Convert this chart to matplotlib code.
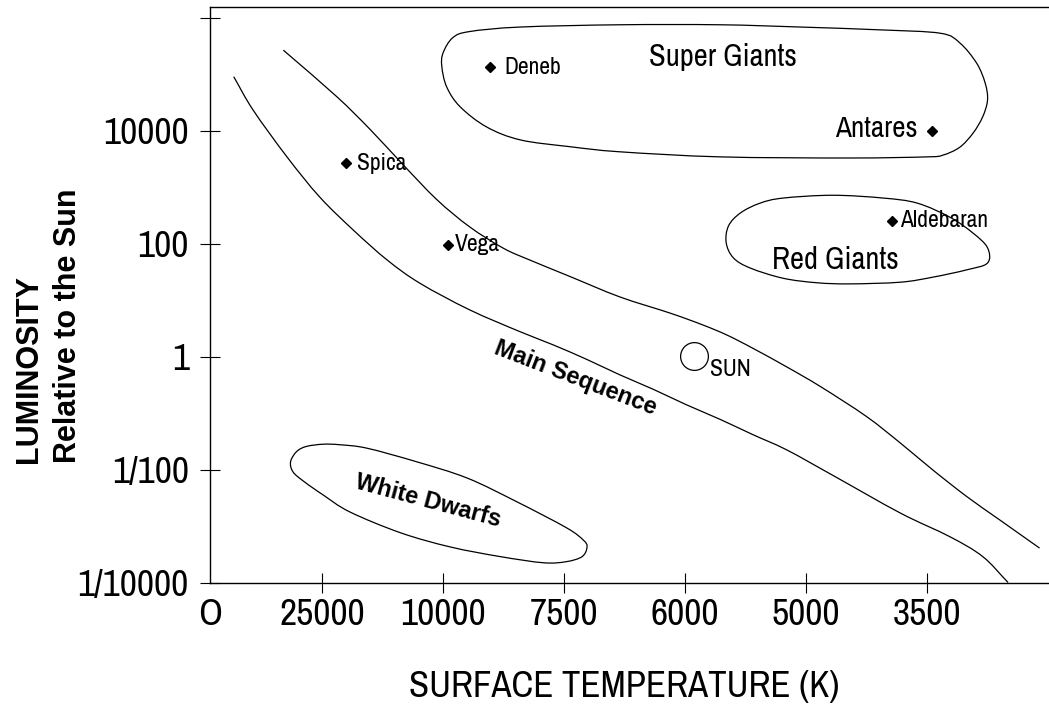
import numpy as np
import matplotlib
matplotlib.use('Agg')
import matplotlib.pyplot as plt
from matplotlib.path import Path
from matplotlib.patches import PathPatch
from matplotlib import font_manager

# condensed face for the squeezed-looking labels, falling back if missing
available = {f.name for f in font_manager.fontManager.ttflist}
NARROW = next((n for n in ['Archivo Narrow', 'PT Sans Narrow', 'Roboto Condensed'] if n in available),
              'Liberation Sans')
WIDE = 'Liberation Sans'
plt.rcParams['font.family'] = [NARROW, 'DejaVu Sans']

# x is a position along the (non-linear) temperature scale, y is log10(L/Lsun)
temp_ticks = [0.074, 1, 2, 3, 4, 5, 6]
temp_labels = ['O', '25000', '10000', '7500', '6000', '5000', '3500']
lum_ticks = [-4, -2, 0, 2, 4, 6]
lum_labels = ['1/10000', '1/100', '1', '100', '10000', '']

star_names = ['Deneb', 'Spica', 'Vega', 'Antares', 'Aldebaran']
star_x = [2.39, 1.20, 2.04, 6.04, 5.71]
star_y = [5.13, 3.43, 1.98, 4.00, 2.41]
sun_x = 4.07
sun_y = 0.02

# main sequence band edges
ms_upper_x = [0.68, 1.12, 1.40, 1.67, 1.95, 2.22, 2.50, 2.72, 3.05, 3.46, 3.88,
              4.15, 4.35, 4.56, 4.84, 5.12, 5.50, 5.78, 6.05, 6.33, 6.60, 6.93]
ms_upper_y = [5.43, 4.61, 4.02, 3.40, 2.78, 2.30, 1.92, 1.71, 1.42, 1.06, 0.77,
              0.56, 0.38, 0.15, -0.18, -0.53, -1.06, -1.53, -2.01, -2.48, -2.89, -3.39]
ms_lower_x = [0.27, 0.43, 0.71, 0.98, 1.26, 1.54, 1.81, 2.22, 2.64, 2.91, 3.19,
              3.46, 3.74, 4.01, 4.29, 4.56, 4.84, 5.22, 5.78, 6.19, 6.46, 6.67]
ms_lower_y = [4.96, 4.37, 3.54, 2.83, 2.24, 1.71, 1.30, 0.83, 0.44, 0.21, -0.05,
              -0.32, -0.58, -0.85, -1.11, -1.38, -1.65, -2.10, -2.77, -3.19, -3.54, -4.00]

# closed outlines
giant_sg_x = [2.00, 2.08, 2.22, 2.64, 3.46, 4.29, 4.95, 5.61, 6.11, 6.27, 6.41, 6.48,
              6.50, 6.46, 6.38, 6.27, 6.13, 6.00, 5.36, 4.29, 3.46, 3.05, 2.64, 2.36,
              2.14, 2.03, 1.99]
giant_sg_y = [5.38, 5.65, 5.76, 5.84, 5.88, 5.88, 5.84, 5.79, 5.73, 5.56, 5.20, 4.85,
              4.55, 4.25, 3.96, 3.71, 3.57, 3.54, 3.52, 3.54, 3.63, 3.72, 3.84, 4.07,
              4.43, 4.78, 5.14]
giant_rg_x = [4.36, 4.46, 4.62, 4.81, 5.22, 5.64, 5.92, 6.19, 6.38, 6.50, 6.50,
              6.33, 6.05, 5.78, 5.36, 5.09, 4.81, 4.54, 4.40, 4.34]
giant_rg_y = [2.32, 2.55, 2.72, 2.81, 2.86, 2.81, 2.72, 2.47, 2.19, 1.93, 1.66,
              1.54, 1.41, 1.32, 1.29, 1.31, 1.39, 1.57, 1.75, 2.02]
dwarf_x = [0.74, 0.79, 0.87, 1.01, 1.15, 1.37, 1.78, 2.20, 2.61, 3.02, 3.16, 3.19,
           3.15, 3.02, 2.83, 2.47, 2.06, 1.65, 1.23, 1.01, 0.85, 0.76]
dwarf_y = [-1.86, -1.68, -1.59, -1.55, -1.56, -1.62, -1.86, -2.15, -2.57, -3.03, -3.25, -3.37,
           -3.54, -3.63, -3.65, -3.54, -3.37, -3.12, -2.75, -2.45, -2.21, -2.04]


def smooth_path(x, y, closed=False):
    # catmull-rom through the traced points, handed to matplotlib as cubic beziers
    pts = np.column_stack([x, y])
    n = len(pts)
    if closed:
        P = np.vstack([pts[-1], pts, pts[0], pts[1]])
        segs = n
    else:
        P = np.vstack([2 * pts[0] - pts[1], pts, 2 * pts[-1] - pts[-2]])
        segs = n - 1
    verts = [P[1]]
    codes = [Path.MOVETO]
    for i in range(1, segs + 1):
        p0, p1, p2, p3 = P[i - 1], P[i], P[i + 1], P[i + 2]
        verts += [p1 + (p2 - p0) / 6, p2 - (p3 - p1) / 6, p2]
        codes += [Path.CURVE4] * 3
    return Path(verts, codes)


fig = plt.figure(figsize=(10.49, 7.06), dpi=100)
ax = fig.add_axes([0.2002, 0.1749, 0.7998, 0.8152])

for xs, ys, closed in [(ms_upper_x, ms_upper_y, False), (ms_lower_x, ms_lower_y, False),
                       (giant_sg_x, giant_sg_y, True), (giant_rg_x, giant_rg_y, True),
                       (dwarf_x, dwarf_y, True)]:
    ax.add_patch(PathPatch(smooth_path(xs, ys, closed), fill=False, lw=0.9, color='black'))

ax.plot(star_x, star_y, 'D', ms=5, color='black', zorder=3)
ax.plot([sun_x], [sun_y], 'o', ms=20, mfc='white', mec='black', mew=0.9, zorder=3)

offsets = {'Deneb': (10, 0), 'Spica': (8, 0), 'Vega': (5, 0), 'Antares': (-10, 2), 'Aldebaran': (6, 0)}
for name, sx, sy in zip(star_names, star_x, star_y):
    dx, dy = offsets[name]
    ax.annotate(name, (sx, sy), xytext=(dx, dy), textcoords='offset points',
                ha='left' if dx > 0 else 'right', va='center',
                fontsize=21 if name == 'Antares' else 17)
ax.annotate('SUN', (sun_x, sun_y), xytext=(12, -10), textcoords='offset points',
            ha='left', va='center', fontsize=17)

ax.text(4.31, 5.31, 'Super Giants', fontsize=22, ha='center', va='center')
ax.text(5.24, 1.71, 'Red Giants', fontsize=22, ha='center', va='center')
ax.text(3.09, -0.38, 'Main Sequence', fontsize=17, fontweight='bold', family=WIDE,
        rotation=-21, ha='center', va='center')
ax.text(1.88, -2.56, 'White Dwarfs', fontsize=17, fontweight='bold', family=WIDE,
        rotation=-15, ha='center', va='center')

ax.set_xlim(0.074, 7.008)
ax.set_ylim(-4, 6.195)
ax.set_xticks(temp_ticks, temp_labels)
ax.set_yticks(lum_ticks, lum_labels)
ax.tick_params(direction='inout', length=14.4, width=0.8, labelsize=27)
ax.tick_params(axis='x', pad=4)
ax.tick_params(axis='y', pad=8)
ax.xaxis.get_major_ticks()[0].tick1line.set_visible(False)
ax.spines['right'].set_visible(False)
for side in ['left', 'bottom', 'top']:
    ax.spines[side].set_linewidth(1.0)

fig.text(0.5948, 0.0127, 'SURFACE TEMPERATURE (K)', fontsize=26.5, ha='center', va='baseline')
fig.text(0.0276, 0.344, 'LUMINOSITY', fontsize=22, fontweight='bold', family=WIDE,
         rotation=90, ha='center', va='bottom')
fig.text(0.0648, 0.344, 'Relative to the Sun', fontsize=22, fontweight='bold', family=WIDE,
         rotation=90, ha='center', va='bottom')

fig.savefig('out.png', dpi=100)
